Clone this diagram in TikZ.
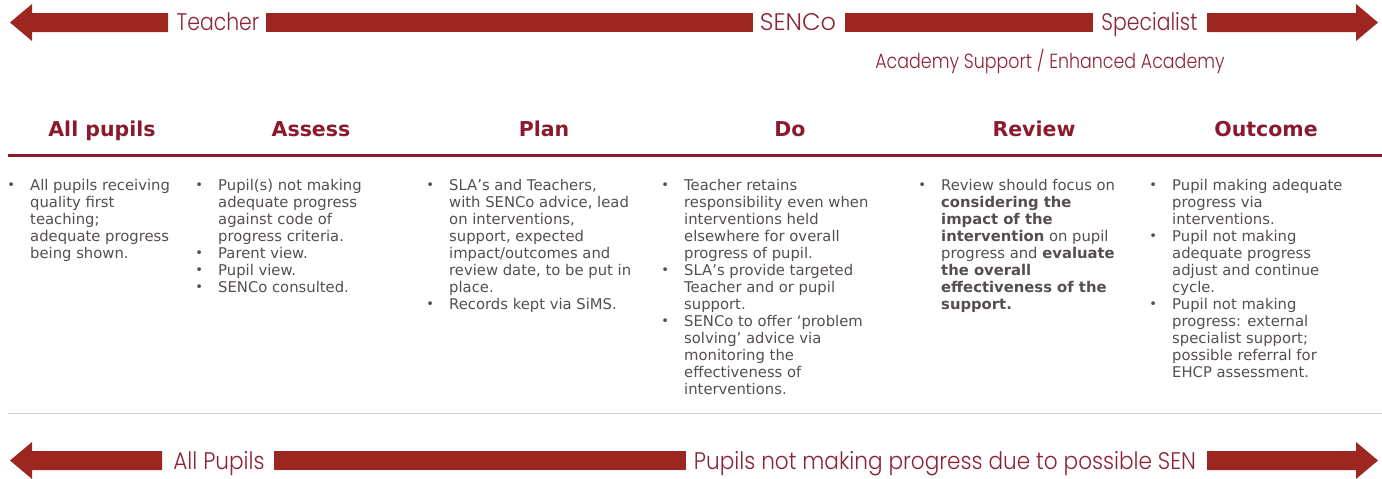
\documentclass[tikz,border=0pt]{standalone}
\usepackage{fontspec}
\setmainfont{DejaVu Sans}
\newfontfamily\arrowfont[FakeStretch=0.85]{Poppins Light}
\newfontfamily\arrowfontwide[FakeStretch=0.9]{Poppins Light}
\newfontfamily\arrowfontfull{Poppins Light}
\definecolor{arrowred}{RGB}{158,38,32}
\definecolor{labelred}{RGB}{140,35,52}
\definecolor{headred}{RGB}{139,26,46}
\definecolor{textgrey}{RGB}{85,78,78}
\definecolor{rulegrey}{RGB}{210,210,210}
\newcommand\bul{\llap{\makebox[38pt][c]{\raisebox{0.3pt}{\fontsize{13}{13}\selectfont\textbullet}}}}
\tikzset{
  arrowlabel/.style={anchor=base, inner sep=0, text=labelred, font=\arrowfont\fontsize{24}{28}\selectfont},
  widelabel/.style={anchor=base, inner sep=0, text=labelred, font=\arrowfontwide\fontsize{24}{28}\selectfont},
  fulllabel/.style={anchor=base, inner sep=0, text=labelred, font=\arrowfontfull\fontsize{24}{28}\selectfont},
  sublabel/.style={anchor=base, inner sep=0, text=labelred, font=\arrowfont\fontsize{20.5}{24}\selectfont},
  header/.style={anchor=base, inner sep=0, text=headred, font=\bfseries\fontsize{20.5}{24}\selectfont},
  col/.style={anchor=north west, inner sep=0, text=textgrey, font=\fontsize{14.8}{17}\selectfont},
}
\begin{document}
\begin{tikzpicture}[x=1pt,y=-1pt]
\useasboundingbox (0,0) rectangle (1382,479);
% top arrow
\fill[arrowred] (10,22.5) -- (32,4) -- (32,13) -- (168,13) -- (168,32) -- (32,32) -- (32,41) -- cycle;
\fill[arrowred] (266,13) rectangle (753,32);
\fill[arrowred] (845,13) rectangle (1093,32);
\fill[arrowred] (1207,13) -- (1356,13) -- (1356,4) -- (1378,22.5) -- (1356,41) -- (1356,32) -- (1207,32) -- cycle;
\node[arrowlabel] (teacher) at (218,30.5) {Teacher};
\node[fulllabel] (senco) at (798,30.5) {SENCo};
\node[arrowlabel] (spec) at (1149.5,30.5) {Specialist};
\node[sublabel] (academy) at (1050,68) {Academy Support / Enhanced Academy};
% headers
\node[header] (h1) at (102,136.5) {All pupils};
\node[header] (h2) at (311,136.5) {Assess};
\node[header] (h3) at (544,136.5) {Plan};
\node[header] (h4) at (790,136.5) {Do};
\node[header] (h5) at (1034,136.5) {Review};
\node[header] (h6) at (1266,136.5) {Outcome};
\draw[headred, line width=3pt] (8,155) -- (1382,155);
% columns
\node[col] (c1) at (30,178) {\begin{tabular}{@{}l@{}}\bul All pupils receiving\\ quality first\\ teaching;\\ adequate progress\\ being shown.\end{tabular}};
\node[col] (c2) at (218,178) {\begin{tabular}{@{}l@{}}\bul Pupil(s) not making\\ adequate progress\\ against code of\\ progress criteria.\\ \bul Parent view.\\ \bul Pupil view.\\ \bul SENCo consulted.\end{tabular}};
\node[col] (c3) at (449,178) {\begin{tabular}{@{}l@{}}\bul SLA’s and Teachers,\\ with SENCo advice, lead\\ on interventions,\\ support, expected\\ impact/outcomes and\\ review date, to be put in\\ place.\\ \bul Records kept via SiMS.\end{tabular}};
\node[col] (c4) at (684,178) {\begin{tabular}{@{}l@{}}\bul Teacher retains\\ responsibility even when\\ interventions held\\ elsewhere for overall\\ progress of pupil.\\ \bul SLA’s provide targeted\\ Teacher and or pupil\\ support.\\ \bul SENCo to offer ‘problem\\ solving’ advice via\\ monitoring the\\ effectiveness of\\ interventions.\end{tabular}};
\node[col] (c5) at (941,178) {\begin{tabular}{@{}l@{}}\bul Review should focus on\\ \textbf{considering the}\\ \textbf{impact of the}\\ \textbf{intervention} on pupil\\ progress and \textbf{evaluate}\\ \textbf{the overall}\\ \textbf{effectiveness of the}\\ \textbf{support.}\end{tabular}};
\node[col] (c6) at (1172,178) {\begin{tabular}{@{}l@{}}\bul Pupil making adequate\\ progress via\\ interventions.\\ \bul Pupil not making\\ adequate progress\\ adjust and continue\\ cycle.\\ \bul Pupil not making\\ progress: external\\ specialist support;\\ possible referral for\\ EHCP assessment.\end{tabular}};
\draw[rulegrey, line width=1pt] (8,413.5) -- (1382,413.5);
% bottom arrow
\fill[arrowred] (10,460.5) -- (32,442) -- (32,451) -- (162,451) -- (162,470) -- (32,470) -- (32,479) -- cycle;
\fill[arrowred] (274,451) rectangle (686,470);
\fill[arrowred] (1207,451) -- (1356,451) -- (1356,442) -- (1378,460.5) -- (1356,479) -- (1356,470) -- (1207,470) -- cycle;
\node[widelabel] (allp) at (219,469) {All Pupils};
\node[widelabel] (notp) at (945,469) {Pupils not making progress due to possible SEN};
\end{tikzpicture}
\end{document}
